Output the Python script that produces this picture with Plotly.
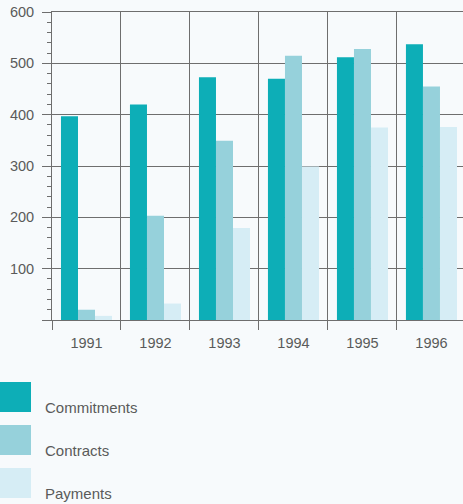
import plotly.graph_objects as go

years = ["1991", "1992", "1993", "1994", "1995", "1996"]
commitments = [397, 420, 473, 470, 512, 537]
contracts = [20, 203, 349, 515, 528, 455]
payments = [8, 32, 179, 299, 375, 376]
series_names = ["Commitments", "Contracts", "Payments"]
colors = ["#0DAEB7", "#96D1DB", "#D6EDF5"]
y_ticks = [0, 100, 200, 300, 400, 500, 600]
y_ticktext = ["", "100", "200", "300", "400", "500", "600"]

W, H = 463, 504
ML, MT, MB = 52, 12, 184
plot_h = H - MT - MB
bg = "#F7FAFC"
grid = "#6E6E6E"
txt = "#5A5A5A"

fig = go.Figure()
for name, vals, col in zip(series_names, [commitments, contracts, payments], colors):
    fig.add_trace(go.Bar(x=years, y=vals, name=name, marker=dict(color=col, line=dict(width=0)),
                         showlegend=False))

def py(p):
    return (H - MB - p) / plot_h

shapes = []
annotations = []
legend_y = [(382, 412, 407), (425, 455, 450), (468, 498, 493)]
for (y0, y1, yt), name, col in zip(legend_y, series_names, colors):
    shapes.append(dict(type="rect", xref="paper", yref="paper",
                       x0=(0 - ML) / (W - ML), x1=(31 - ML) / (W - ML),
                       y0=py(y1), y1=py(y0), fillcolor=col, line=dict(width=0), layer="above"))
    annotations.append(dict(text=name, xref="paper", yref="paper",
                            x=(43 - ML) / (W - ML), y=py(yt), xanchor="left", yanchor="middle",
                            showarrow=False, font=dict(size=15, color=txt)))

fig.update_layout(
    width=W, height=H,
    margin=dict(l=ML, r=0, t=MT, b=MB, pad=0),
    paper_bgcolor=bg, plot_bgcolor=bg,
    barmode="group", bargap=0.26, bargroupgap=0,
    font=dict(family="Liberation Sans, Arial, sans-serif", size=14, color=txt),
    shapes=shapes, annotations=annotations,
    xaxis=dict(range=[-0.5, 5.457], tickson="boundaries", ticks="outside", ticklen=9,
               tickcolor=grid, tickwidth=1, showgrid=True, gridcolor=grid, gridwidth=1,
               showline=True, linecolor=grid, linewidth=1, mirror=True,
               tickfont=dict(size=14.5, color=txt), ticklabelstandoff=10, fixedrange=True),
    yaxis=dict(range=[0, 600], tickvals=y_ticks, ticktext=y_ticktext,
               ticks="outside", ticklen=9, tickcolor=grid, tickwidth=1,
               showgrid=True, gridcolor=grid, gridwidth=1, zeroline=False,
               showline=True, linecolor=grid, linewidth=1,
               minor=dict(dtick=20, tick0=0, ticks="outside", ticklen=4, tickcolor=grid, showgrid=False),
               tickfont=dict(size=14.5, color=txt), ticklabelstandoff=5, fixedrange=True),
)

fig.write_html("out.html")
